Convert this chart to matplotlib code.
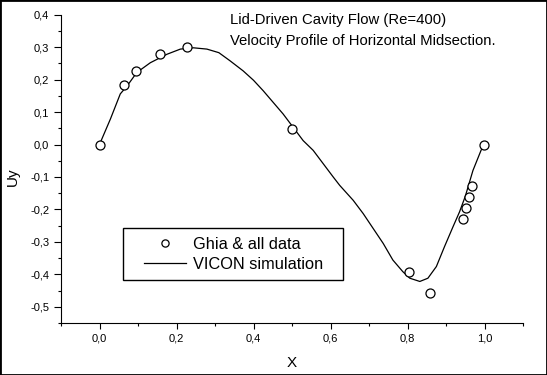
import matplotlib
matplotlib.use("Agg")
import matplotlib.pyplot as plt
from matplotlib.ticker import MultipleLocator, FuncFormatter
from matplotlib.patches import Rectangle

plt.rcParams["font.family"] = ["Liberation Sans", "DejaVu Sans"]

# Ghia et al. reference points
ghia_x = [0.0, 0.0625, 0.0938, 0.1563, 0.2266, 0.5, 0.8047, 0.8594, 0.9453, 0.9531, 0.9609, 0.9688, 1.0]
ghia_y = [0.0, 0.182, 0.227, 0.280, 0.301, 0.047, -0.392, -0.459, -0.231, -0.197, -0.162, -0.127, 0.0]

# VICON simulation curve
sim_x = [0.0, 0.0285, 0.054, 0.072, 0.097, 0.132, 0.175, 0.210, 0.244, 0.279,
         0.310, 0.339, 0.373, 0.400, 0.425, 0.451, 0.477, 0.503, 0.529, 0.555,
         0.581, 0.607, 0.624, 0.659, 0.685, 0.711, 0.737, 0.762, 0.788, 0.806,
         0.832, 0.853, 0.875, 0.896, 0.918, 0.935, 0.950, 0.970, 0.991, 1.0]
sim_y = [0.0, 0.079, 0.156, 0.181, 0.222, 0.252, 0.278, 0.294, 0.298, 0.294,
         0.283, 0.258, 0.227, 0.198, 0.166, 0.130, 0.094, 0.053, 0.012, -0.018,
         -0.059, -0.100, -0.126, -0.172, -0.213, -0.259, -0.305, -0.356, -0.392, -0.412,
         -0.422, -0.412, -0.376, -0.315, -0.254, -0.208, -0.160, -0.080, -0.018, 0.0]

title_lines = ["Lid-Driven Cavity Flow (Re=400)", "Velocity Profile of Horizontal Midsection."]

W, H = 547, 375
fig = plt.figure(figsize=(W / 100, H / 100), dpi=100)
ax = fig.add_axes([61 / W, 1 - 323 / H, 462 / W, 308.3 / H])

ax.plot(sim_x, sim_y, color="black", lw=0.9, label="VICON simulation", zorder=2)
ax.plot(ghia_x, ghia_y, ls="none", marker="o", ms=6.5, mfc="white", mec="black",
        mew=0.9, label="Ghia & all data", zorder=3)

ax.set_xlim(-0.1, 1.1)
ax.set_ylim(-0.55, 0.4)
ax.spines["top"].set_visible(False)
ax.spines["right"].set_visible(False)

ax.xaxis.set_major_locator(MultipleLocator(0.2))
ax.xaxis.set_minor_locator(MultipleLocator(0.1))
ax.yaxis.set_major_locator(MultipleLocator(0.1))
ax.yaxis.set_minor_locator(MultipleLocator(0.05))
comma = FuncFormatter(lambda v, p: ("%.1f" % v).replace(".", ",").replace("-0,0", "0,0"))
ax.xaxis.set_major_formatter(comma)
ax.yaxis.set_major_formatter(comma)
ax.tick_params(which="major", direction="out", length=5, width=0.8, labelsize=8)
ax.tick_params(which="minor", direction="out", length=2.5, width=0.8)
ax.tick_params(axis="x", which="major", pad=3.5, length=4)
ax.tick_params(axis="y", which="major", pad=3.5)

ax.set_xlabel("X", fontsize=11)
ax.set_ylabel("Uy", fontsize=11)
ax.xaxis.set_label_coords(0.5, -0.108)
ax.yaxis.set_label_coords(-0.088, 0.473)

ax.text(230 / W, 1 - 20 / H, title_lines[0], transform=fig.transFigure, fontsize=10.7, va="center")
ax.text(230 / W, 1 - 41 / H, title_lines[1], transform=fig.transFigure, fontsize=10.7, va="center")

handles, labels = ax.get_legend_handles_labels()
leg = fig.legend(handles[::-1], labels[::-1], loc="center",
                 bbox_to_anchor=(233.5 / W, 1 - 254.5 / H), frameon=False, fontsize=11.8,
                 handlelength=2.6, handletextpad=0.4, borderpad=0, labelspacing=0.32,
                 markerscale=0.8)
fig.patches.append(Rectangle((123 / W, 1 - 280 / H), 220 / W, 52 / H, transform=fig.transFigure,
                             fill=False, edgecolor="black", lw=1.0))

fig.patches.append(Rectangle((0, 0), 1, 1, transform=fig.transFigure, fill=False,
                             edgecolor="black", lw=2))

fig.savefig("out.png", dpi=100)
